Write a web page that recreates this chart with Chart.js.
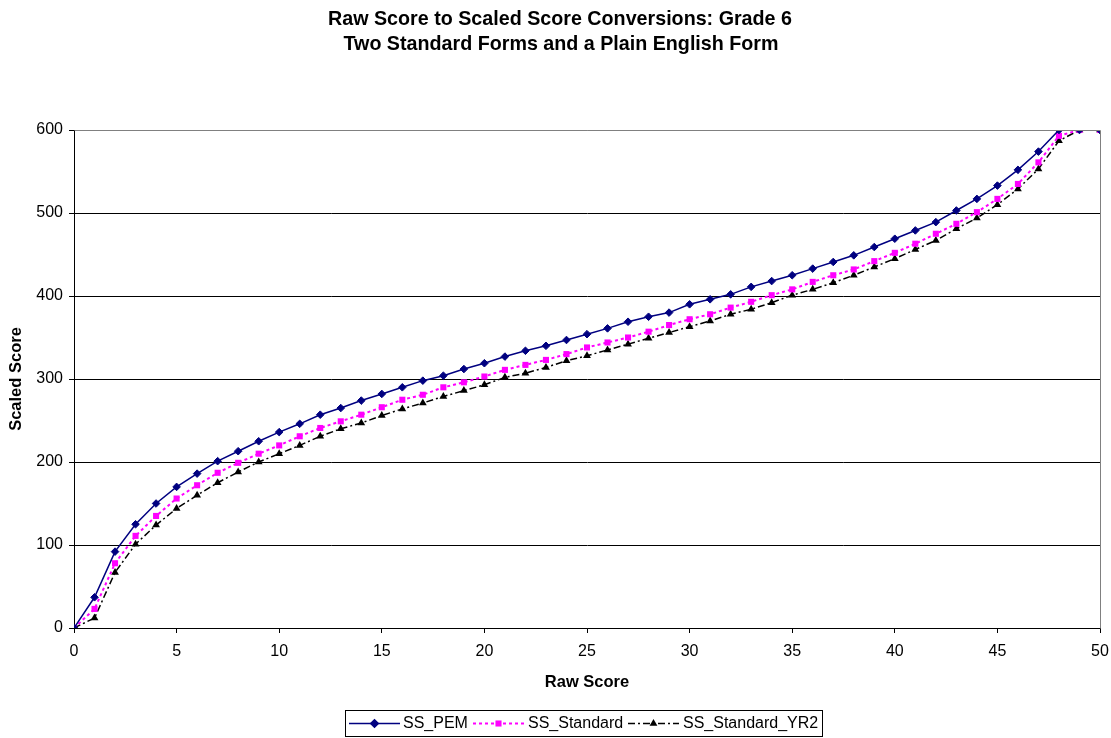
<!DOCTYPE html>
<html>
<head>
<meta charset="utf-8">
<title>Raw Score to Scaled Score Conversions: Grade 6</title>
<script src="https://cdn.jsdelivr.net/npm/chart.js@4/dist/chart.umd.min.js"></script>
<style>
  html, body { margin: 0; padding: 0; background: #fff; }
  #wrap { width: 1111px; height: 738px; }
</style>
</head>
<body>
<div id="wrap"><canvas id="c" width="1111" height="738"></canvas></div>
<script>
// Raw scores 0..50
const rawScores = [
  0, 1, 2, 3, 4, 5, 6, 7, 8, 9,
  10, 11, 12, 13, 14, 15, 16, 17, 18, 19,
  20, 21, 22, 23, 24, 25, 26, 27, 28, 29,
  30, 31, 32, 33, 34, 35, 36, 37, 38, 39,
  40, 41, 42, 43, 44, 45, 46, 47, 48, 49, 50
];

// Scaled scores, Plain English form
const ssPEM = [
  0, 37, 92, 125, 150, 170, 186, 201, 213, 225,
  236, 246, 257, 265, 274, 282, 290, 298, 304, 312,
  319, 327, 334, 340, 347, 354, 361, 369, 375, 380,
  390, 396, 402, 411, 418, 425, 433, 441, 449, 459,
  469, 479, 489, 503, 517, 533, 552, 574, 600, 600, 600
];

// Scaled scores, standard form
const ssStandard = [
  0, 23, 78, 111, 135, 156, 172, 187, 199, 210,
  220, 231, 241, 249, 257, 266, 275, 281, 290, 296,
  303, 311, 317, 323, 330, 338, 344, 350, 357, 365,
  372, 378, 386, 393, 401, 408, 417, 425, 432, 442,
  452, 463, 475, 487, 501, 517, 535, 561, 593, 600, 600
];

// Scaled scores, standard form (year 2)
const ssStandardYR2 = [
  0, 12, 67, 101, 124, 144, 160, 175, 188, 200,
  210, 220, 231, 240, 247, 256, 264, 271, 279, 286,
  293, 302, 307, 314, 322, 328, 335, 342, 349, 356,
  363, 370, 378, 384, 392, 401, 408, 416, 425, 435,
  445, 456, 467, 481, 494, 510, 529, 553, 587, 600, 600
];

const seriesNames = ['SS_PEM', 'SS_Standard', 'SS_Standard_YR2'];
const titleLines = [
  'Raw Score to Scaled Score Conversions: Grade 6',
  'Two Standard Forms and a Plain English Form'
];
const xTicks = [0, 5, 10, 15, 20, 25, 30, 35, 40, 45, 50];
const yTicks = [0, 100, 200, 300, 400, 500, 600];

const FONT = "'Liberation Sans', Arial, Helvetica, sans-serif";

function toPoints(values) {
  return rawScores.map((x, i) => ({ x: x, y: values[i] }));
}

const datasets = [
  {
    label: seriesNames[0],
    data: toPoints(ssPEM),
    borderColor: '#000080',
    backgroundColor: '#000080',
    borderWidth: 1.5,
    pointStyle: 'rectRot',
    pointRadius: 3.8,
    pointBorderWidth: 1,
    tension: 0
  },
  {
    label: seriesNames[1],
    data: toPoints(ssStandard),
    borderColor: '#FF00FF',
    backgroundColor: '#FF00FF',
    borderWidth: 2,
    borderDash: [3, 3],
    pointStyle: 'rect',
    pointRadius: 4.3,
    pointBorderWidth: 0,
    tension: 0
  },
  {
    label: seriesNames[2],
    data: toPoints(ssStandardYR2),
    borderColor: '#000000',
    backgroundColor: '#000000',
    borderWidth: 1.5,
    borderDash: [7, 3, 2, 3],
    pointStyle: 'triangle',
    pointRadius: 4.5,
    pointBorderWidth: 0,
    tension: 0
  }
];

// Two-line bold title, plot frame and boxed legend
const decorations = {
  id: 'decorations',
  afterDraw(chart) {
    const ctx = chart.ctx;
    const area = chart.chartArea;
    ctx.save();

    // gray frame on top and right of the plot
    ctx.strokeStyle = '#808080';
    ctx.lineWidth = 1;
    ctx.setLineDash([]);
    ctx.beginPath();
    ctx.moveTo(Math.round(area.left) + 0.5, Math.round(area.top) + 0.5);
    ctx.lineTo(Math.round(area.right) + 0.5, Math.round(area.top) + 0.5);
    ctx.lineTo(Math.round(area.right) + 0.5, Math.round(area.bottom) + 0.5);
    ctx.stroke();

    // title
    ctx.fillStyle = '#000';
    ctx.font = 'bold 19.7px ' + FONT;
    ctx.textAlign = 'center';
    ctx.textBaseline = 'middle';
    ctx.fillText(titleLines[0], 560, 20);
    ctx.fillText(titleLines[1], 561, 45);

    // legend box
    ctx.strokeStyle = '#000';
    ctx.lineWidth = 1;
    ctx.strokeRect(345.5, 710.5, 477, 26);

    const items = [
      { x0: 349, x1: 400, tx: 403 },
      { x0: 473, x1: 524, tx: 528 },
      { x0: 628, x1: 679, tx: 683 }
    ];
    const ly = 723;
    ctx.font = '16px ' + FONT;
    ctx.textAlign = 'left';
    ctx.textBaseline = 'middle';
    chart.data.datasets.forEach((ds, i) => {
      const it = items[i];
      ctx.save();
      ctx.strokeStyle = ds.borderColor;
      ctx.lineWidth = ds.borderWidth;
      ctx.setLineDash(ds.borderDash || []);
      ctx.beginPath();
      ctx.moveTo(it.x0, ly + 0.5);
      ctx.lineTo(it.x1, ly + 0.5);
      ctx.stroke();
      ctx.setLineDash([]);
      ctx.fillStyle = ds.backgroundColor;
      ctx.strokeStyle = ds.borderColor;
      Chart.helpers.drawPoint(ctx, {
        pointStyle: ds.pointStyle,
        radius: ds.pointRadius,
        rotation: 0,
        borderWidth: ds.pointBorderWidth
      }, (it.x0 + it.x1) / 2, ly + 0.5);
      ctx.restore();
      ctx.fillStyle = '#000';
      ctx.fillText(ds.label, it.tx, ly + 1);
    });

    ctx.restore();
  }
};

new Chart(document.getElementById('c'), {
  type: 'line',
  data: { datasets: datasets },
  options: {
    responsive: false,
    animation: false,
    events: [],
    layout: { padding: { left: 0, right: 11, top: 130, bottom: 46 } },
    plugins: {
      legend: { display: false },
      title: { display: false },
      tooltip: { enabled: false }
    },
    scales: {
      x: {
        type: 'linear',
        min: 0,
        max: 50,
        afterBuildTicks(scale) { scale.ticks = xTicks.map(v => ({ value: v })); },
        afterFit(scale) {
          scale.height = 64;
          scale.paddingLeft = 0;
          scale.paddingRight = 0;
        },
        border: { display: true, color: '#000', width: 1 },
        grid: { drawOnChartArea: false, drawTicks: true, tickLength: 5, tickColor: '#000' },
        ticks: { color: '#000', padding: 9, maxRotation: 0, font: { family: FONT, size: 16 } },
        title: {
          display: true,
          text: 'Raw Score',
          color: '#000',
          font: { family: FONT, size: 16.5, weight: 'bold' },
          padding: { top: 0, bottom: 0 }
        }
      },
      y: {
        type: 'linear',
        min: 0,
        max: 600,
        afterBuildTicks(scale) { scale.ticks = yTicks.map(v => ({ value: v })); },
        afterFit(scale) {
          scale.width = 74;
          scale.paddingTop = 0;
          scale.paddingBottom = 0;
        },
        border: { display: true, color: '#000', width: 1 },
        grid: {
          color: ctx => (ctx.tick && ctx.tick.value === 600 ? '#808080' : '#000'),
          tickColor: '#000',
          drawTicks: true,
          tickLength: 5,
          lineWidth: 1
        },
        ticks: { color: '#000', padding: 6, font: { family: FONT, size: 16 } },
        title: {
          display: true,
          text: 'Scaled Score',
          color: '#000',
          font: { family: FONT, size: 16.5, weight: 'bold' },
          padding: { top: 7, bottom: 0 }
        }
      }
    }
  },
  plugins: [decorations]
});
</script>
</body>
</html>
